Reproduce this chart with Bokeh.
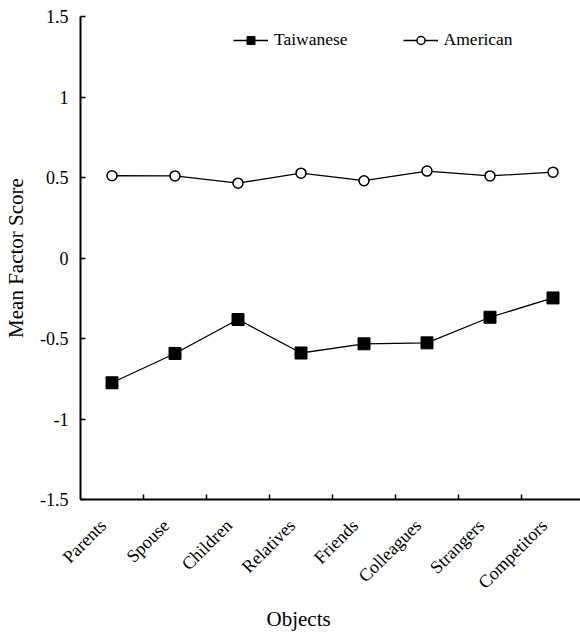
import math
from bokeh.plotting import figure
from bokeh.models import Range1d, FixedTicker, Legend, LegendItem, Title
from bokeh.embed import file_html
from bokeh.resources import INLINE

categories = ["Parents", "Spouse", "Children", "Relatives", "Friends",
              "Colleagues", "Strangers", "Competitors"]
taiwanese = [-0.775, -0.593, -0.382, -0.59, -0.533, -0.527, -0.368, -0.248]
american = [0.511, 0.51, 0.465, 0.527, 0.48, 0.54, 0.51, 0.533]
y_ticks = [-1.5, -1, -0.5, 0, 0.5, 1, 1.5]
y_tick_labels = ["-1.5", "-1", "-0.5", "0", "0.5", "1", "1.5"]

FONT = "Liberation Serif"
xs = [i + 0.5 for i in range(len(categories))]
# rotated labels sit a little left of the category centre in the original
label_shift = 0.14
label_pos = [x - label_shift for x in xs]

p = figure(width=580, height=637, output_backend="svg", toolbar_location=None,
           x_range=Range1d(0, 500 / 63), y_range=Range1d(-1.5, 1.5),
           min_border_left=80, min_border_right=0, min_border_top=16,
           min_border_bottom=138)
p.outline_line_color = None
p.xgrid.visible = False
p.ygrid.visible = False
p.background_fill_color = "white"
p.border_fill_color = "white"

r_tw_line = p.line(xs, taiwanese, line_color="black", line_width=1.3)
r_tw_mark = p.scatter(xs, taiwanese, marker="square", size=12,
                      fill_color="black", line_color="black")
r_am_line = p.line(xs, american, line_color="black", line_width=1.3)
r_am_mark = p.scatter(xs, american, marker="circle", size=10,
                      fill_color="white", line_color="black", line_width=1.5)

# x axis
xa = p.xaxis[0]
xa.ticker = FixedTicker(ticks=label_pos, minor_ticks=[1, 2, 3, 4, 5, 6, 7])
xa.major_label_overrides = {x: c for x, c in zip(label_pos, categories)}
xa.major_tick_in = 0
xa.major_tick_out = 0
xa.minor_tick_in = 5
xa.minor_tick_out = 0
xa.minor_tick_line_color = "black"
xa.minor_tick_line_width = 1.5
xa.axis_line_width = 2
xa.axis_line_color = "black"
xa.major_label_orientation = math.pi / 4
xa.major_label_text_font = FONT
xa.major_label_text_font_size = "18px"
xa.major_label_text_color = "black"
xa.major_label_standoff = 23

# y axis
ya = p.yaxis[0]
ya.ticker = FixedTicker(ticks=y_ticks, minor_ticks=[])
ya.major_label_overrides = {t: l for t, l in zip(y_ticks, y_tick_labels)}
ya.major_tick_in = 5
ya.major_tick_out = 0
ya.major_tick_line_width = 1.5
ya.major_tick_line_color = "black"
ya.axis_line_width = 2
ya.axis_line_color = "black"
ya.major_label_text_font = FONT
ya.major_label_text_font_size = "18px"
ya.major_label_text_color = "black"
ya.major_label_standoff = 12
ya.axis_label = "Mean Factor Score"
ya.axis_label_text_font = FONT
ya.axis_label_text_font_size = "21px"
ya.axis_label_text_font_style = "normal"
ya.axis_label_text_color = "black"
ya.axis_label_standoff = 9

p.add_layout(Title(text="Objects", text_font=FONT, text_font_size="21px",
                   text_font_style="normal", text_color="black",
                   align="left", offset=186, standoff=4), "below")

legend = Legend(items=[
    LegendItem(label="Taiwanese", renderers=[r_tw_line, r_tw_mark]),
    LegendItem(label="American", renderers=[r_am_line, r_am_mark]),
], orientation="horizontal", location=(153, 449))
legend.border_line_color = None
legend.background_fill_alpha = 0
legend.label_text_font = FONT
legend.label_text_font_size = "17.5px"
legend.label_text_color = "black"
legend.glyph_width = 35
legend.spacing = 55
legend.label_standoff = 6
p.add_layout(legend)

open("out.html", "w").write(file_html(p, INLINE))
